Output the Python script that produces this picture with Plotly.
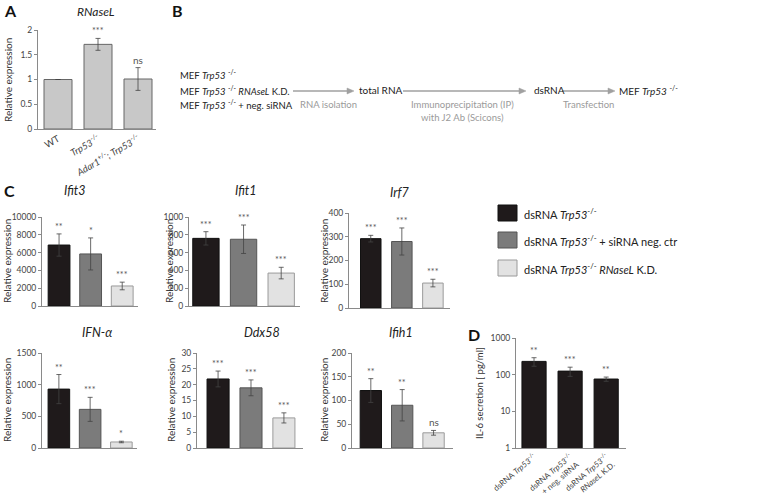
import math
import plotly.graph_objects as go

W, H = 760, 493
FONT = "Lato"

# ---------------- data ----------------
# Panel A
a_cats = ["WT", "<i>Trp53</i><sup>-/-</sup>", "<i>Adar1</i><sup>+/-</sup>; <i>Trp53</i><sup>-/-</sup>"]
a_vals = [1.0, 1.71, 1.01]
a_err = [0.0, 0.12, 0.23]
a_sig = ["", "***", "ns"]

# Panel C groups
c_groups = ["dsRNA Trp53-/-", "dsRNA Trp53-/- + siRNA neg. ctr", "dsRNA Trp53-/- RNaseL K.D."]
ifit3_vals = [6850, 5850, 2250]
ifit3_err = [1250, 1800, 430]
ifit3_sig = ["**", "*", "***"]
ifit1_vals = [760, 750, 370]
ifit1_err = [75, 160, 65]
ifit1_sig = ["***", "***", "***"]
irf7_vals = [292, 280, 105]
irf7_err = [14, 57, 16]
irf7_sig = ["***", "***", "***"]
ifna_vals = [930, 610, 95]
ifna_err = [230, 190, 12]
ifna_sig = ["**", "***", "*"]
ddx58_vals = [21.8, 19.0, 9.5]
ddx58_err = [2.5, 2.5, 1.6]
ddx58_sig = ["***", "***", "***"]
ifih1_vals = [121, 90, 32]
ifih1_err = [25, 33, 5]
ifih1_sig = ["**", "**", "ns"]

# Panel D
d_cats = ["dsRNA <i>Trp53</i><sup>-/-</sup>",
          "dsRNA <i>Trp53</i><sup>-/-</sup><br>+ neg. siRNA",
          "dsRNA <i>Trp53</i><sup>-/-</sup><br><i>RNaseL</i> K.D."]
d_vals = [230, 125, 76]
d_err = [60, 35, 10]
d_sig = ["**", "***", "**"]

legend_labels = ["dsRNA <i>Trp53</i><sup>-/-</sup>",
                 "dsRNA <i>Trp53</i><sup>-/-</sup> + siRNA neg. ctr",
                 "dsRNA <i>Trp53</i><sup>-/-</sup> <i>RNaseL</i> K.D."]

# ---------------- style ----------------
C_FILL = ["#1f1a1b", "#7b7b7b", "#e2e2e2"]
C_LINE = ["#111111", "#555555", "#9a9a9a"]
AXC = "#8a8a8a"
TXT = "#444444"


def px(x):
    return x / W


def py(y):
    return 1 - y / H


fig = go.Figure()
layout = {}
annots = []
shapes = []


def add_panel(i, cats, vals, err, sigs, fills, lines, xd, yd, xr, yr, tickvals,
              ytype="linear", width=0.7, show_xlabels=False, xangle=0, xfont=9):
    xa = "x" if i == 1 else f"x{i}"
    ya = "y" if i == 1 else f"y{i}"
    fig.add_trace(go.Bar(
        x=cats, y=vals, xaxis=xa, yaxis=ya, width=width,
        marker=dict(color=fills, line=dict(color=lines, width=1)),
        error_y=dict(type="data", array=err, visible=True, color="#444",
                     thickness=0.8, width=2.5),
        showlegend=False, hoverinfo="skip"))
    layout["xaxis" if i == 1 else f"xaxis{i}"] = dict(
        domain=[px(xd[0]), px(xd[1])], anchor=ya, type="category",
        range=xr, showline=True, linecolor=AXC, linewidth=1, ticks="",
        showgrid=False, zeroline=False, showticklabels=show_xlabels,
        automargin=False,
        tickangle=xangle, tickfont=dict(size=xfont, color=TXT, family=FONT),
        categoryorder="array", categoryarray=cats)
    layout["yaxis" if i == 1 else f"yaxis{i}"] = dict(
        domain=[py(yd[0]), py(yd[1])], anchor=xa, type=ytype, range=yr,
        showline=True, linecolor=AXC, linewidth=1, ticks="outside",
        ticklen=3, tickcolor=AXC, showgrid=False, zeroline=False,
        automargin=False,
        tickvals=tickvals, ticktext=[f"{t:g}" for t in tickvals],
        tickfont=dict(size=8.5, color=TXT, family=FONT))
    for c, v, e, s in zip(cats, vals, err, sigs):
        if not s:
            continue
        top = v + e
        yv = math.log10(top) if ytype == "log" else top
        annots.append(dict(x=c, y=yv, xref=xa, yref=ya, text=s, showarrow=False,
                           yanchor="bottom", yshift=0,
                           font=dict(size=10 if s == "ns" else 9, color="#555",
                                     family=FONT)))


def text(x, y, s, size=11, color="#222", xanchor="center", angle=0, bold=False,
         italic=False):
    if italic:
        s = f"<i>{s}</i>"
    if bold:
        s = f"<b>{s}</b>"
    annots.append(dict(x=px(x), y=py(y), xref="paper", yref="paper", text=s,
                       showarrow=False, xanchor=xanchor, yanchor="middle",
                       textangle=angle, align="left",
                       font=dict(size=size, color=color, family=FONT)))


# ---------------- Panel A ----------------
add_panel(1, a_cats, a_vals, a_err, a_sig, ["#c8c8c8"] * 3, ["#666"] * 3,
          (38, 156), (129, 30), [-0.5, 2.45], [0, 2], [0, 0.5, 1, 1.5, 2],
          width=0.7, show_xlabels=True, xangle=-30, xfont=9.5)
text(2, 11, "A", size=16, color="#111", xanchor="left", bold=True)
text(96, 12, "RNaseL", size=12, italic=True)
text(8, 80, "Relative expression", size=10, color="#333", angle=-90)

# ---------------- Panel B ----------------
text(170, 11, "B", size=16, color="#111", xanchor="left", bold=True)
mef = "MEF <i>Trp53</i> <sup>-/-</sup>"
text(178, 75, mef, size=9.5, xanchor="left")
text(178, 90, mef + " <i>RNAseL</i> K.D.", size=9.5, xanchor="left")
text(178, 105, mef + " + neg. siRNA", size=9.5, xanchor="left")
text(357, 90, "total RNA", size=10, xanchor="left")
text(532, 90, "dsRNA", size=10, xanchor="left")
text(617, 90, mef, size=10, xanchor="left")
GREY = "#9a9a9a"
text(328, 104, "RNA isolation", size=9.5, color=GREY)
text(462, 104, "Immunoprecipitation (IP)", size=9.5, color=GREY)
text(462, 117, "with J2 Ab (Scicons)", size=9.5, color=GREY)
text(588, 104, "Transfection", size=9.5, color=GREY)
for x0, x1 in [(293, 354), (403, 526), (562, 615)]:
    shapes.append(dict(type="line", xref="paper", yref="paper",
                       x0=px(x0), x1=px(x1 - 5), y0=py(91), y1=py(91),
                       line=dict(color="#a0a0a0", width=1.4)))
    shapes.append(dict(type="path", xref="paper", yref="paper",
                       path=f"M {px(x1)},{py(91)} L {px(x1 - 7)},{py(88)} "
                            f"L {px(x1 - 7)},{py(94)} Z",
                       fillcolor="#a0a0a0", line=dict(color="#a0a0a0", width=0.5)))

# ---------------- Panel C ----------------
text(2, 190, "C", size=16, color="#111", xanchor="left", bold=True)
row1_y = (306, 217)
row2_y = (448, 353)
add_panel(2, c_groups, ifit3_vals, ifit3_err, ifit3_sig, C_FILL, C_LINE,
          (42, 138), row1_y, [-0.54, 2.5], [0, 10000],
          [0, 2000, 4000, 6000, 8000, 10000], width=0.69)
add_panel(3, c_groups, ifit1_vals, ifit1_err, ifit1_sig, C_FILL, C_LINE,
          (189, 300), row1_y, [-0.45, 2.5], [0, 1000],
          [0, 200, 400, 600, 800, 1000], width=0.7)
add_panel(4, c_groups, irf7_vals, irf7_err, irf7_sig, C_FILL, C_LINE,
          (349, 450), (308, 213), [-0.7, 2.55], [0, 400],
          [0, 100, 200, 300, 400], width=0.66)
add_panel(5, c_groups, ifna_vals, ifna_err, ifna_sig, C_FILL, C_LINE,
          (42, 137), row2_y, [-0.54, 2.5], [0, 1500],
          [0, 500, 1000, 1500], width=0.69)
add_panel(6, c_groups, ddx58_vals, ddx58_err, ddx58_sig, C_FILL, C_LINE,
          (197, 303), row2_y, [-0.64, 2.58], [0, 30],
          [0, 5, 10, 15, 20, 25, 30], width=0.67)
add_panel(7, c_groups, ifih1_vals, ifih1_err, ifih1_sig, C_FILL, C_LINE,
          (352, 453), row2_y, [-0.6, 2.62], [0, 200],
          [0, 50, 100, 150, 200], width=0.68)

text(75, 190, "Ifit3", size=12.5, italic=True)
text(246, 190, "Ifit1", size=12.5, italic=True)
text(400, 192, "Irf7", size=12.5, italic=True)
text(97, 332, "IFN-α", size=12.5, italic=True)
text(262, 332, "Ddx58", size=12.5, italic=True)
text(401, 332, "Ifih1", size=12.5, italic=True)
for x, y in [(7, 261), (169, 261), (324, 261), (7, 400), (171, 400), (324, 400)]:
    text(x, y, "Relative expression", size=10, color="#333", angle=-90)

# legend (drawn)
for k, (lab, yc) in enumerate(zip(legend_labels, [213, 240, 268])):
    shapes.append(dict(type="rect", xref="paper", yref="paper",
                       x0=px(498), x1=px(517), y0=py(yc + 8), y1=py(yc - 8),
                       fillcolor=C_FILL[k], line=dict(color=C_LINE[k], width=1)))
    text(522, yc, lab, size=11, color="#222", xanchor="left")

# ---------------- Panel D ----------------
text(466, 334, "D", size=16, color="#111", xanchor="left", bold=True)
add_panel(8, d_cats, d_vals, d_err, d_sig, [C_FILL[0]] * 3, [C_LINE[0]] * 3,
          (516, 626), (448, 338), [-0.5, 2.55], [0, 3],
          [1, 10, 100, 1000], ytype="log", width=0.67, show_xlabels=True,
          xangle=-40, xfont=8)
text(479, 393, "IL-6 secretion [ pg/ml]", size=9.5, color="#333", angle=-90)

fig.update_layout(
    width=W, height=H, margin=dict(l=0, r=0, t=0, b=0, autoexpand=False),
    paper_bgcolor="white", plot_bgcolor="white", bargap=0.3,
    font=dict(family=FONT, color=TXT),
    annotations=annots, shapes=shapes, **layout)

fig.write_html(
    "out.html",
    config={"displayModeBar": False},
    post_script="document.body.style.margin='0';document.body.style.overflow='hidden';")
